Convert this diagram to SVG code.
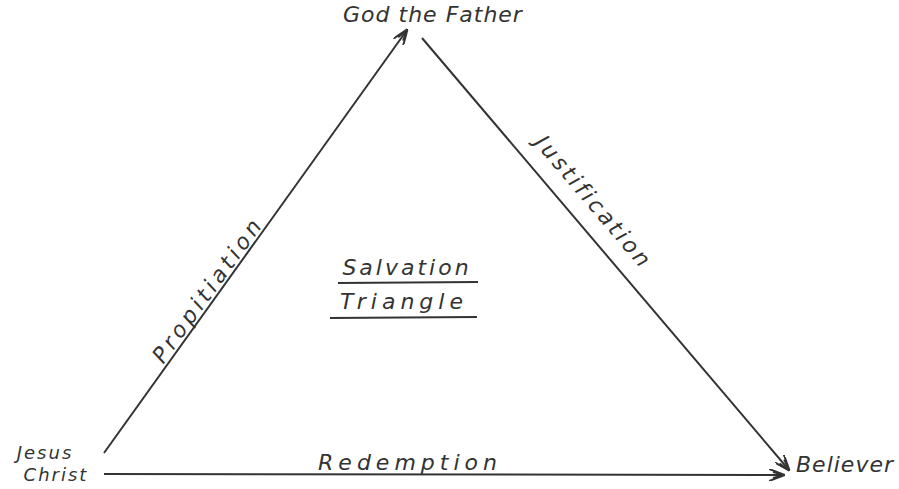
<svg xmlns="http://www.w3.org/2000/svg" width="899" height="489" viewBox="0 0 899 489">
<style>
.t{font-family:"DejaVu Sans","Liberation Sans",sans-serif;fill:#333;font-style:italic}
.e{stroke:#333;stroke-width:2;fill:none}
</style>
<defs>
<marker id="ah" markerWidth="16" markerHeight="12" refX="15" refY="6" orient="auto" markerUnits="userSpaceOnUse">
<path d="M0,0 L16,6 L0,12 M4,3 L16,6 L4,9" fill="none" stroke="#333" stroke-width="2"/>
</marker>
</defs>
<rect width="899" height="489" fill="#fff"/>
<g id="connectors">
<line class="e" x1="104" y1="453" x2="407" y2="30" marker-end="url(#ah)"/>
<line class="e" x1="422" y1="38" x2="789" y2="470" marker-end="url(#ah)"/>
<line class="e" x1="104" y1="474" x2="784" y2="475" marker-end="url(#ah)"/>
<text class="t" font-size="22" transform="translate(214,294) rotate(-54.3)" text-anchor="middle" letter-spacing="4">Propitiation</text>
<text class="t" font-size="22" transform="translate(588,207) rotate(49.6)" text-anchor="middle" letter-spacing="3">Justification</text>
<text class="t" x="410" y="470" font-size="22" text-anchor="middle" letter-spacing="5">Redemption</text>
</g>
<g id="god">
<text class="t" x="433" y="22" font-size="22" text-anchor="middle" letter-spacing="1">God the Father</text>
</g>
<g id="jesus">
<text class="t" x="45" y="459" font-size="18" text-anchor="middle" letter-spacing="2">Jesus</text>
<text class="t" x="56" y="481" font-size="18" text-anchor="middle" letter-spacing="2">Christ</text>
</g>
<g id="believer">
<text class="t" x="845" y="472" font-size="22" text-anchor="middle" letter-spacing="1">Believer</text>
</g>
<g id="center">
<text class="t" x="407" y="275" font-size="22" text-anchor="middle" letter-spacing="3">Salvation</text>
<line class="e" x1="338" y1="283" x2="478" y2="282" stroke-width="1.5"/>
<text class="t" x="404" y="309" font-size="22" text-anchor="middle" letter-spacing="5">Triangle</text>
<line class="e" x1="330" y1="318" x2="477" y2="317" stroke-width="1.5"/>
</g>
</svg>
